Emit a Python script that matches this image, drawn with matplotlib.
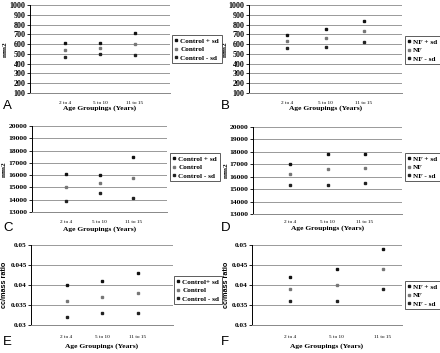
import matplotlib
matplotlib.use("Agg")
import matplotlib.pyplot as plt
import numpy as np

W, H = 440, 353

categories = ["2 to 4", "5 to 10", "11 to 15"]

a_plus = [610, 614, 713]
a_mean = [542, 559, 604]
a_minus = [465, 497, 487]

b_plus = [695, 750, 840]
b_mean = [630, 660, 735]
b_minus = [565, 570, 625]

c_plus = [16100, 16050, 17480]
c_mean = [15030, 15340, 15750]
c_minus = [13910, 14530, 14100]

d_plus = [17050, 17820, 17850]
d_mean = [16200, 16600, 16680]
d_minus = [15300, 15320, 15480]

e_plus = [0.040, 0.041, 0.043]
e_mean = [0.036, 0.037, 0.038]
e_minus = [0.032, 0.033, 0.033]

f_plus = [0.042, 0.044, 0.049]
f_mean = [0.039, 0.040, 0.044]
f_minus = [0.036, 0.036, 0.039]

ctrl_labels = ["Control + sd", "Control", "Control - sd"]
ctrl_labels_e = ["Control+ sd", "Control", "Control - sd"]
nf_labels = ["NF + sd", "NF", "NF - sd"]

mm_ticks = [100, 200, 300, 400, 500, 600, 700, 800, 900, 1000]
big_ticks = [13000, 14000, 15000, 16000, 17000, 18000, 19000, 20000]
ratio_ticks = [0.03, 0.035, 0.04, 0.045, 0.05]

serif = "Liberation Serif"
sans = "Liberation Sans"

fig = plt.figure(figsize=(W / 100, H / 100), dpi=100)


def make_axes(left, right, top, bottom):
    return fig.add_axes([left / W, 1 - bottom / H, (right - left) / W, (bottom - top) / H])


def panel(box, series, labels, ticks, tick_fmt, ylabel, ylabel_font, ylabel_x,
          letter, letter_xy, leg_box, xlabel_y, tick_pad=6, xlim=(0, 4), tick_fs=5.8):
    ax = make_axes(*box)
    x = np.arange(1, len(categories) + 1)
    colors = ["#111111", "#777777", "#222222"]
    handles = []
    for vals, lab, col in zip(series, labels, colors):
        h, = ax.plot(x, vals, linestyle="none", marker="s", markersize=1.6,
                     color=col, label=lab)
        handles.append(h)
    ax.set_xlim(*xlim)
    ax.set_ylim(ticks[0], ticks[-1])
    ax.set_yticks(ticks)
    ax.set_yticklabels([tick_fmt(t) for t in ticks], fontfamily=serif,
                       fontweight="bold", fontsize=tick_fs)
    ax.set_xticks(x)
    ax.set_xticklabels(categories, fontfamily=serif, fontsize=3.8)
    ax.tick_params(axis="x", length=0, pad=tick_pad)
    ax.tick_params(axis="y", length=2, width=0.6, pad=1.2)
    ax.grid(axis="y", color="#999999", linewidth=0.7)
    ax.set_axisbelow(True)
    for s in ["top", "right"]:
        ax.spines[s].set_visible(False)
    ax.spines["left"].set_linewidth(0.7)
    ax.spines["bottom"].set_color("#888888")
    ax.spines["bottom"].set_linewidth(0.7)
    cy = (box[2] + box[3]) / 2
    fig.text(ylabel_x / W, 1 - cy / H, ylabel, fontfamily=ylabel_font,
             fontweight="bold", fontsize=5.2, rotation=90, ha="center", va="center")
    cx = (box[0] + box[1]) / 2
    fig.text(cx / W, 1 - xlabel_y / H, "Age Groupings (Years)", fontfamily=serif,
             fontweight="bold", fontsize=5.4, ha="center", va="center")
    fig.text(letter_xy[0] / W, 1 - letter_xy[1] / H, letter, fontfamily=sans,
             fontsize=9.5, ha="left", va="center")
    lx0, ly0, lx1, ly1 = leg_box
    leg = fig.legend(handles=handles, labels=labels, loc="upper left",
                     bbox_to_anchor=(lx0 / W, 1 - ly0 / H),
                     prop={"family": serif, "weight": "bold", "size": 5.2},
                     frameon=True, fancybox=False, edgecolor="#333333",
                     handlelength=0.4, handletextpad=0.4, borderpad=0.35,
                     labelspacing=0.35, borderaxespad=0, markerscale=1.2)
    leg.get_frame().set_linewidth(0.7)
    return ax


def fmt_int(t):
    return "%d" % t


def fmt_ratio(t):
    s = ("%.3f" % t).rstrip("0")
    return s


panel((30, 170, 5, 93), [a_plus, a_mean, a_minus], ctrl_labels, mm_ticks, fmt_int,
      "mm2", serif, 5, "A", (3, 106), (172, 35, 215, 62), 108)
panel((249, 402, 5, 93), [b_plus, b_mean, b_minus], nf_labels, mm_ticks, fmt_int,
      "mm2", serif, 225, "B", (221, 106), (405, 36, 438, 63), 108)
panel((32, 167, 126, 212), [c_plus, c_mean, c_minus], ctrl_labels, big_ticks, fmt_int,
      "mm2", serif, 4, "C", (3, 228), (170, 153, 220, 183), 229, tick_fs=5.4)
panel((253, 402, 127, 214), [d_plus, d_mean, d_minus], nf_labels, big_ticks, fmt_int,
      "mm2", serif, 226, "D", (221, 228), (405, 153, 440, 182), 228, tick_pad=4,
      tick_fs=5.4)
panel((31, 173, 245, 325), [e_plus, e_mean, e_minus], ctrl_labels_e, ratio_ticks, fmt_ratio,
      "cc/mass ratio", sans, 5, "E", (3, 342), (174, 276, 220, 300), 346, tick_fs=5.2,
      tick_pad=7)
panel((252, 402, 245, 325), [f_plus, f_mean, f_minus], nf_labels, ratio_ticks, fmt_ratio,
      "cc/mass ratio", sans, 226, "F", (221, 342), (405, 281, 440, 305), 346,
      xlim=(0.18, 3.41), tick_fs=5.2, tick_pad=7)

fig.savefig("out.png", dpi=100)
